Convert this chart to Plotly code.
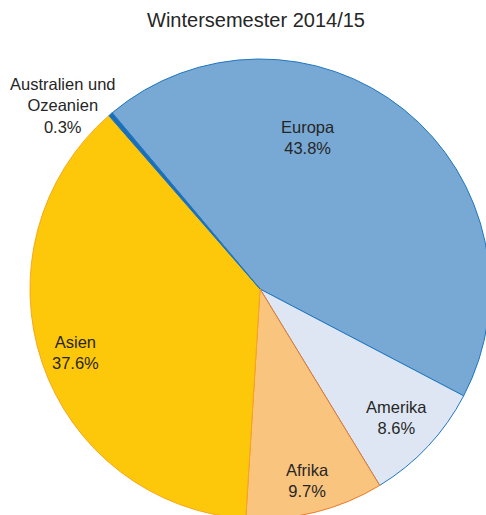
"""Kreisdiagramm: Herkunft der Studierenden, Wintersemester 2014/15"""

import plotly.graph_objects as go

regionen = ["Europa", "Amerika", "Afrika", "Asien", "Australien und<br>Ozeanien"]
anteile = [43.8, 8.6, 9.7, 37.6, 0.3]
beschriftungen = ["43.8%", "8.6%", "9.7%", "37.6%", "0.3%"]

farben = ["#78A9D4", "#DEE6F3", "#F8C47E", "#FEC80A", "#1A6FB8"]
randfarben = ["#1F77C0", "#1F77C0", "#F07A28", "#F9A61A", "#1F77C0"]

# Kreis ragt rechts und unten etwas über das Bild hinaus (wie im Original)
L, T = 30, 59
SIZE = 460
W, H = L + SIZE, T + SIZE


def to_paper(px, py):
    # Pixel im Fenster -> Paper-Koordinaten
    return (px - L) / SIZE, (T + SIZE - py) / SIZE


# Positionen der Beschriftungen (Mitte des Textblocks, Pixel im Bild)
label_pos = [(308, 137), (396, 417), (307, 480), (75, 352), (63, 106)]

fig = go.Figure(
    go.Pie(
        labels=regionen,
        values=anteile,
        sort=False,
        direction="clockwise",
        rotation=-40,
        textinfo="none",
        hoverinfo="label+percent",
        marker=dict(colors=farben, line=dict(color=randfarben, width=1)),
        showlegend=False,
        domain=dict(x=[0, 1], y=[0, 1]),
    )
)

annotations = []
for name, txt, (px, py) in zip(regionen, beschriftungen, label_pos):
    x, y = to_paper(px, py)
    annotations.append(
        dict(
            x=x,
            y=y,
            xref="paper",
            yref="paper",
            xanchor="center",
            yanchor="middle",
            text=f"{name}<br>{txt}",
            showarrow=False,
            align="center",
            font=dict(size=16.5, color="#262626", family="Liberation Sans, Arial"),
        )
    )

fig.update_layout(
    width=W,
    height=H,
    margin=dict(l=L, r=0, t=T, b=0),
    paper_bgcolor="white",
    plot_bgcolor="white",
    title=dict(
        text="Wintersemester 2014/15",
        x=256 / W,
        xanchor="center",
        y=1 - 20 / H,
        yanchor="middle",
        font=dict(size=20, color="#262626", family="Liberation Sans, Arial"),
    ),
    annotations=annotations,
)

# ohne Seitenrand, Überstand abschneiden
fig.write_html(
    "out.html",
    config={"displayModeBar": False},
    post_script="document.body.style.margin='0';document.body.style.overflow='hidden';",
)
